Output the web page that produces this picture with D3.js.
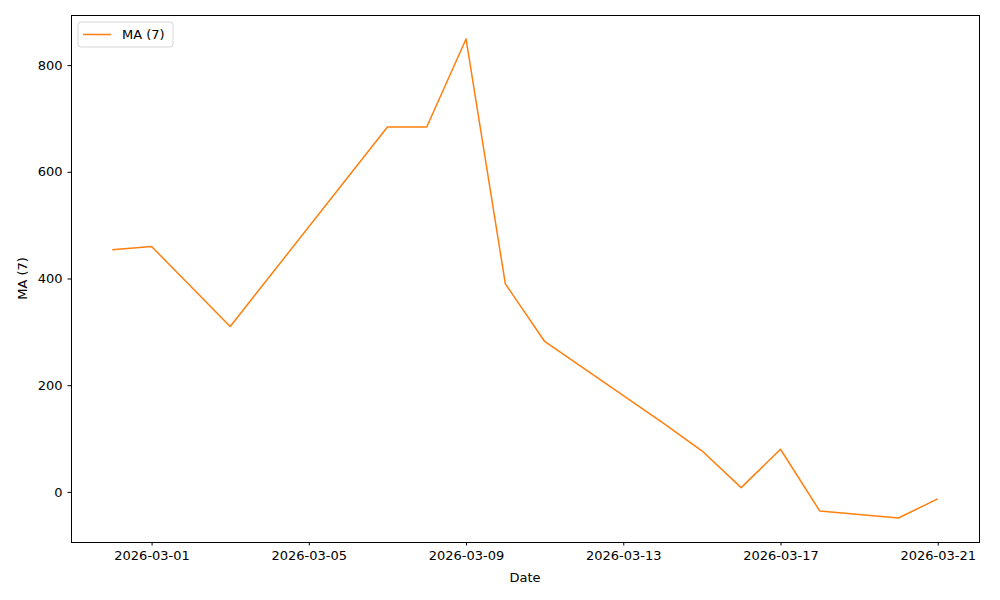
<!DOCTYPE html>
<html lang="en">
<head>
	<meta charset="UTF-8">
	<title>MA (7)</title>
	<script type="text/javascript" src="https://cdn.jsdelivr.net/npm/d3@7"></script>
	<style>
		body { margin: 0; background: #fff; }
		svg text { font-family: "DejaVu Sans", sans-serif; }
	</style>
</head>
<body>
	<div class="chart"></div>
	<script type="text/javascript">
		// data
		var dates = ['2026-02-28','2026-03-01','2026-03-03','2026-03-07','2026-03-08','2026-03-09','2026-03-10',
			'2026-03-11','2026-03-14','2026-03-15','2026-03-16','2026-03-17','2026-03-18','2026-03-20','2026-03-21'];
		var maValues = [454, 460, 310, 684, 684, 849, 390, 282, 130, 77, 8, 80, -36, -49, -13];
		var xTicks = ['2026-03-01','2026-03-05','2026-03-09','2026-03-13','2026-03-17','2026-03-21'];
		var yTicks = [0, 200, 400, 600, 800];
		var seriesName = 'MA (7)';

		var W = 1000, H = 600;
		// plot area (note: "top" is reserved on window)
		var pL = 71, pR = 979, pT = 15, pB = 542;
		var parse = d3.utcParse('%Y-%m-%d');
		var fmt = d3.utcFormat('%Y-%m-%d');

		var data = dates.map(function(d, i){ return { date: parse(d), v: maValues[i] }; });

		// matplotlib style 5% margins
		var xExt = d3.extent(data, function(d){ return +d.date; });
		var xPad = (xExt[1] - xExt[0]) * 0.05;
		var yExt = d3.extent(maValues);
		var yPad = (yExt[1] - yExt[0]) * 0.05;

		var x = d3.scaleUtc().domain([new Date(xExt[0] - xPad), new Date(xExt[1] + xPad)]).range([pL, pR]);
		var y = d3.scaleLinear().domain([yExt[0] - yPad, yExt[1] + yPad]).range([pB, pT]);

		var svg = d3.select('.chart').append('svg')
			.attr('width', W).attr('height', H).style('background', '#fff');

		var xAxis = d3.axisBottom(x)
			.tickValues(xTicks.map(parse))
			.tickFormat(fmt)
			.tickSizeInner(3.5).tickSizeOuter(0).tickPadding(5);
		var yAxis = d3.axisLeft(y)
			.tickValues(yTicks)
			.tickSizeInner(3.5).tickSizeOuter(0).tickPadding(5);

		var gx = svg.append('g').attr('transform', 'translate(0,' + pB + ')').call(xAxis);
		var gy = svg.append('g').attr('transform', 'translate(' + pL + ',0)').call(yAxis);
		[gx, gy].forEach(function(g){
			g.select('.domain').remove();
			g.selectAll('text').attr('font-size', 13).attr('fill', '#000');
			g.selectAll('line').attr('stroke', '#000').attr('stroke-width', 1);
		});

		var line = d3.line()
			.x(function(d){ return x(d.date); })
			.y(function(d){ return y(d.v); });

		svg.append('path').datum(data)
			.attr('d', line)
			.attr('fill', 'none')
			.attr('stroke', '#ff7f0e')
			.attr('stroke-width', 1.5)
			.attr('stroke-linejoin', 'round');

		// frame
		svg.append('rect')
			.attr('x', pL + 0.5).attr('y', pT + 0.5)
			.attr('width', pR - pL).attr('height', pB - pT)
			.attr('fill', 'none').attr('stroke', '#000').attr('stroke-width', 1);

		// axis labels
		svg.append('text')
			.attr('x', (pL + pR) / 2).attr('y', 582)
			.attr('text-anchor', 'middle').attr('font-size', 13)
			.text('Date');
		svg.append('text')
			.attr('transform', 'translate(27,' + ((pT + pB) / 2) + ') rotate(-90)')
			.attr('text-anchor', 'middle').attr('font-size', 13)
			.text(seriesName);

		// legend
		var lg = svg.append('g').attr('transform', 'translate(78,22)');
		lg.append('rect')
			.attr('width', 95).attr('height', 25).attr('rx', 3)
			.attr('fill', '#fff').attr('fill-opacity', 0.8)
			.attr('stroke', '#ccc').attr('stroke-width', 0.8);
		lg.append('line')
			.attr('x1', 5).attr('x2', 33).attr('y1', 12.5).attr('y2', 12.5)
			.attr('stroke', '#ff7f0e').attr('stroke-width', 1.5);
		lg.append('text')
			.attr('x', 44).attr('y', 17)
			.attr('font-size', 13)
			.text(seriesName);
	</script>
</body>
</html>
